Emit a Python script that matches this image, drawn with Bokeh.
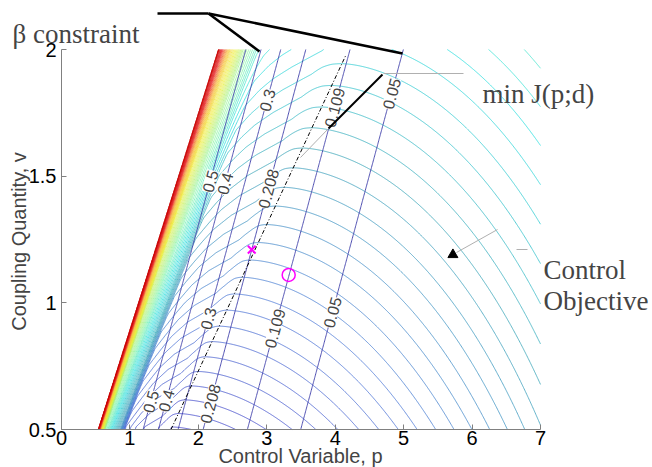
import numpy as np
from bokeh.plotting import figure
from bokeh.models import Range1d, Label, Arrow, FixedTicker
from bokeh.embed import file_html
from bokeh.resources import INLINE

# ---------------- data ----------------
x_ticks = [0, 1, 2, 3, 4, 5, 6, 7]
y_ticks = [0.5, 1, 1.5, 2]

# beta constraint contour levels (labels on the lines)
beta_levels = [0.5, 0.4, 0.3, 0.208, 0.109, 0.05]

# min J(p;d) ridge line (p, v)
ridge_p = [1.60, 4.16]
ridge_v = [0.50, 1.98]

# edge of the feasible region (where J blows up)
edge_p = [0.53, 2.28]
edge_v = [0.50, 2.00]

# objective contour levels
J_levels = [0.510, 0.563, 0.617, 0.672, 0.729, 0.787, 0.847, 0.908, 0.971,
            1.035, 1.101, 1.169, 1.238, 1.309, 1.382, 1.456, 1.533, 1.611,
            1.691, 1.773, 1.858, 1.944, 2.033, 2.124, 2.217, 2.312, 2.410,
            2.510, 2.76, 3.04, 3.34, 3.67, 4.04, 4.45, 4.89, 5.38, 5.92,
            6.51, 7.16, 7.88, 8.67, 9.53, 10.5, 11.5, 12.7, 14.0, 15.4,
            16.9, 18.6, 20.4, 22.5, 24.7, 27.2, 29.9, 32.9, 36.2, 39.8,
            43.8, 48.2, 53.0, 58.3, 64.1, 70.5, 77.6]
# colours seen along the level sequence (level index -> colour)
pal_idx = [0, 9, 17, 23, 29, 40, 47, 54, 63]
pal_col = ["#3434c4", "#4070d4", "#2fa0b4", "#22dede", "#80f4a8",
           "#eeee30", "#f8c040", "#ec3030", "#c80000"]
# right of the ridge
J_curv = 0.069
J_pow = 1.6
# left of the ridge: levels passed between ridge (0) and edge (1)
left_t = [0, 0.07, 0.14, 0.375, 0.49, 0.56, 0.63, 0.69, 0.80, 0.90, 0.93, 0.96, 0.99, 1.0]
left_k_bottom = [0, 0.3, 1, 2, 3, 4, 5, 14, 22, 30, 38, 46, 60, 66]
left_k_top = [0, 0.05, 0.2, 1.1, 1.6, 2.0, 2.6, 3.5, 11, 22, 27, 32, 39, 45]

# markers
opt_p, opt_v = [2.78], [1.21]        # x
cur_p, cur_v = [3.32], [1.11]        # o
obj_p, obj_v = [5.72], [1.19]        # control objective

# ---------------- layout ----------------
W, H = 652, 467
L, R, T, B = 61, 112, 49, 38
x0, x1, y0, y1 = 0.0, 7.0, 0.5, 2.0
sx = (W - L - R) / (x1 - x0)
sy = (H - T - B) / (y1 - y0)


def dx(px):
    return x0 + (px - L) / sx


def dy(py):
    return y1 - (py - T) / sy


p = figure(width=W, height=H, output_backend="svg", toolbar_location=None,
           x_range=Range1d(dx(0), dx(W)), y_range=Range1d(dy(H), dy(0)),
           min_border=0, outline_line_color=None)
p.grid.visible = False

# ---------------- fields ----------------
gp = np.linspace(x0, x1, 701)
gv = np.linspace(y0, y1, 301)
P, V = np.meshgrid(gp, gv)
r = ridge_p[0] + (V - ridge_v[0]) * (ridge_p[1] - ridge_p[0]) / (ridge_v[1] - ridge_v[0])
pb = edge_p[0] + (V - edge_v[0]) * (edge_p[1] - edge_p[0]) / (edge_v[1] - edge_v[0])
d = P - r
t = np.clip((r - P) / (r - pb), 0, 1)
idx = np.arange(len(J_levels), dtype=float)
idx_ext = np.append(idx, 400.0)
J_ext = np.append(J_levels, 1e4)
fv = (V - y0) / (y1 - y0)
h_bot = np.interp(t, left_t, left_k_bottom)
h_top = np.interp(t, left_t, left_k_top)
ramp = np.minimum(1.0, t / 0.2)          # rounds the arcs at the ridge
K_left = np.interp(V, J_levels, idx) + (h_bot * (1 - fv) + h_top * fv) * ramp
J_left = np.interp(K_left, idx_ext, J_ext)
J_right = V + J_curv * np.abs(d) ** J_pow
J = np.where(d >= 0, J_right, J_left)
J = np.where(P <= pb, 1e4, J)

# level colours
pal_rgb = np.array([[int(c[i:i + 2], 16) for i in (1, 3, 5)] for c in pal_col], float)
J_colors = []
for i in range(len(J_levels)):
    rgb = [np.interp(i, pal_idx, pal_rgb[:, j]) for j in range(3)]
    J_colors.append("#%02x%02x%02x" % tuple(int(round(v)) for v in rgb))

p.contour(gp, gv, J, levels=J_levels, line_color=J_colors, line_width=0.9,
          line_alpha=0.85)

Bf = np.exp(V - P)
p.contour(gp, gv, Bf, levels=sorted(beta_levels), line_color="#3c3ca8",
          line_width=1, line_alpha=0.9)

p.line(ridge_p, ridge_v, line_color="black", line_width=1, line_dash="4 2 1 2")

# markers
p.scatter(opt_p, opt_v, marker="x", size=11, line_color="#ff00ff", line_width=2)
p.scatter(cur_p, cur_v, marker="circle", size=13, fill_color=None,
          line_color="#ff00ff", line_width=1.5)
p.scatter(obj_p, obj_v, marker="triangle", size=10, fill_color="black",
          line_color="black")

# beta contour labels
lab_v_top = [1.48, 1.471, 1.80, 1.451, 1.771, 1.826]
lab_v_bot = [0.61, 0.614, 0.938, 0.602, 0.899, 0.962]
ang = np.arctan2(sy, sx)
for b, vt, vb in zip(beta_levels, lab_v_top, lab_v_bot):
    for vv in (vt, vb):
        p.add_layout(Label(x=vv - np.log(b), y=vv, text=str(b), angle=ang,
                           text_align="center", text_baseline="middle",
                           text_font="Liberation Sans", text_font_size="16px",
                           background_fill_color="white", padding=0))

# axes (drawn at the data edges)
p.xaxis.fixed_location = y0
p.yaxis.fixed_location = x0
p.xaxis.bounds = (x0, x1)
p.yaxis.bounds = (y0, y1)
for ax in (p.xaxis[0], p.yaxis[0]):
    ax.axis_line_color = "#808080"
    ax.major_tick_line_color = "#808080"
    ax.minor_tick_line_color = None
    ax.major_tick_in = 5
    ax.major_tick_out = 0
    ax.major_label_text_font = "Liberation Sans"
    ax.major_label_text_font_size = "20px"
    ax.major_label_text_color = "black"
p.xaxis.ticker = FixedTicker(ticks=x_ticks)
p.yaxis.ticker = FixedTicker(ticks=y_ticks)
p.xaxis.major_label_standoff = 1
p.yaxis.major_label_standoff = 5
p.xaxis.major_label_overrides = {v: str(v) for v in x_ticks}
p.yaxis.major_label_overrides = {0.5: "0.5", 1: "1", 1.5: "1.5", 2: "2"}

# axis titles
p.add_layout(Label(x=dx(300), y=dy(455), text="Control Variable, p",
                   text_align="center", text_baseline="middle",
                   text_font="Liberation Sans", text_font_size="20px"))
p.add_layout(Label(x=dx(18), y=dy(241), text="Coupling Quantity, v",
                   angle=np.pi / 2, text_align="center", text_baseline="middle",
                   text_font="Liberation Sans", text_font_size="20px"))

# annotations (serif texts and call-out lines)
serif = dict(text_font="Liberation Serif", text_font_size="27px",
             text_baseline="alphabetic", text_align="left")
p.add_layout(Label(x=dx(12), y=dy(33), text="β constraint", **serif))
p.add_layout(Label(x=dx(482), y=dy(93), text="min J(p;d)", **serif))
p.add_layout(Label(x=dx(543), y=dy(269), text="Control", **serif))
p.add_layout(Label(x=dx(543), y=dy(300), text="Objective", **serif))


def seg(a, b, c, d_, color="black", w=2.5):
    p.add_layout(Arrow(end=None, x_start=dx(a), y_start=dy(b), x_end=dx(c),
                       y_end=dy(d_), line_color=color, line_width=w))


seg(157, 13, 208, 13)
seg(208, 13, 259, 51)
seg(208, 13, 402, 53)
seg(382, 74, 328, 128, w=2)
seg(328, 128, 300, 157, color="#b0b0b0", w=1)
seg(383, 73, 463, 73, color="#b0b0b0", w=1)
seg(456, 252, 497, 229, color="#b0b0b0", w=1)
seg(516, 249, 527, 249, color="#b0b0b0", w=1)

open("out.html", "w").write(file_html(p, INLINE))
